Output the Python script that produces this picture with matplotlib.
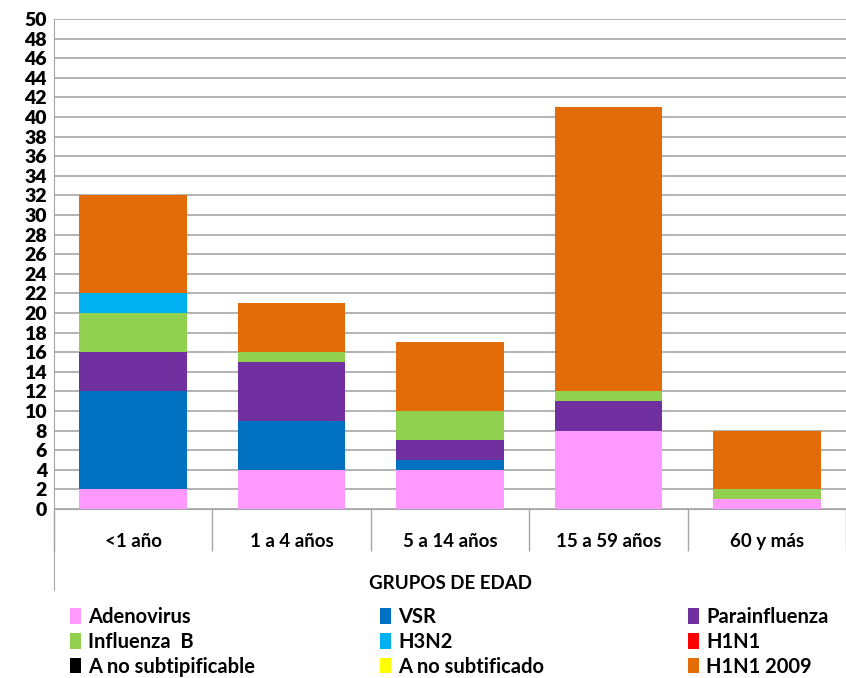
import matplotlib
matplotlib.use("Agg")
import matplotlib.pyplot as plt
from matplotlib.patches import Patch
import numpy as np

plt.rcParams['font.family'] = ['Lato', 'DejaVu Sans']
plt.rcParams['font.weight'] = 'bold'

groups = ['<1 año', '1 a 4 años', '5 a 14 años', '15 a 59 años', '60 y más']

adenovirus = [2, 4, 4, 8, 1]
vsr = [10, 5, 1, 0, 0]
parainfluenza = [4, 6, 2, 3, 0]
influenza_b = [4, 1, 3, 1, 1]
h3n2 = [2, 0, 0, 0, 0]
h1n1 = [0, 0, 0, 0, 0]
a_no_subtipificable = [0, 0, 0, 0, 0]
a_no_subtificado = [0, 0, 0, 0, 0]
h1n1_2009 = [10, 5, 7, 29, 6]

series = [
    ('Adenovirus', adenovirus, '#FF99FF'),
    ('VSR', vsr, '#0070C0'),
    ('Parainfluenza', parainfluenza, '#7030A0'),
    ('Influenza  B', influenza_b, '#92D050'),
    ('H3N2', h3n2, '#00B0F0'),
    ('H1N1', h1n1, '#FF0000'),
    ('A no subtipificable', a_no_subtipificable, '#000000'),
    ('A no subtificado', a_no_subtificado, '#FFFF00'),
    ('H1N1 2009', h1n1_2009, '#E36C09'),
]

fig = plt.figure(figsize=(8.46, 6.78), dpi=100)
ax = fig.add_axes([54 / 846, 1 - 509 / 678, 1 - 54 / 846, 490 / 678])

x = np.arange(len(groups))
bottom = np.zeros(len(groups))
for name, vals, col in series:
    vals = np.array(vals, dtype=float)
    ax.bar(x, vals, width=0.68, bottom=bottom, color=col, zorder=3)
    bottom += vals

ax.set_xlim(-0.5, len(groups) - 0.5)
ax.set_ylim(0, 50)
ax.set_yticks(np.arange(0, 51, 2))
ax.tick_params(axis='y', length=0, labelsize=14, pad=5)
for t in ax.get_yticklabels():
    t.set_fontweight('heavy')
ax.grid(axis='y', color='#A6A6A6', linewidth=1.2, zorder=0)

# category labels and separators
ax.set_xticks(x)
ax.set_xticklabels(groups)
ax.tick_params(axis='x', which='major', length=0, labelsize=13.5, pad=17)
ax.set_xticks(np.arange(-0.5, len(groups) + 0.5, 1), minor=True)
ax.tick_params(axis='x', which='minor', length=30, color='#A6A6A6', width=1)
ax.set_xlabel('GRUPOS DE EDAD', fontsize=13.5, fontweight='bold', labelpad=14)

for s in ['top', 'right']:
    ax.spines[s].set_visible(False)
ax.spines['bottom'].set_color('#A6A6A6')
ax.spines['left'].set_color('#A6A6A6')
ax.spines['left'].set_bounds(-8.3, 50)

# legend: three columns placed like the original
handles = [Patch(facecolor=c, label=n) for n, v, c in series]
col_x = [70, 380, 688]
for k in range(3):
    idx = [k, k + 3, k + 6]
    leg = fig.legend([handles[i] for i in idx], [series[i][0] for i in idx],
                     loc='upper left', bbox_to_anchor=(col_x[k] / 846, 1 - 607 / 678),
                     frameon=False, fontsize=14.5, handlelength=0.55, handleheight=0.8,
                     handletextpad=0.35, labelspacing=0.24, borderpad=0, borderaxespad=0)
    for t in leg.get_texts():
        t.set_fontweight('bold')

fig.savefig('out.png', dpi=100)
